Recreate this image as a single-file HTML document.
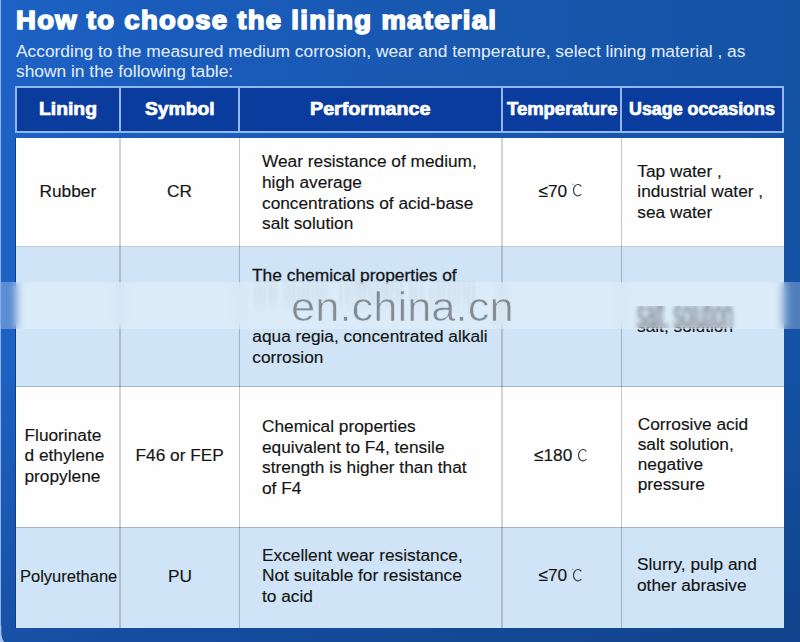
<!DOCTYPE html>
<html><head><meta charset="utf-8">
<style>
html,body{margin:0;padding:0;}
body{width:800px;height:642px;overflow:hidden;position:relative;background:#1656b0;font-family:"Liberation Sans",sans-serif;}
#bg{position:absolute;left:0;top:0;width:800px;height:642px;background:linear-gradient(180deg,rgba(0,0,0,0) 0%,rgba(0,0,0,0) 55%,rgba(0,10,40,0.2) 100%),linear-gradient(90deg,#1d62c4 0%,#1a5cbc 20%,#1858b0 55%,#1452a4 100%);}
#edge{position:absolute;left:0;top:0;width:1.3px;height:642px;background:#8db4ec;}
.t{position:absolute;white-space:nowrap;}
#title{left:16px;top:4.6px;font-size:25px;font-weight:700;color:#fff;transform-origin:0 0;transform:scaleX(1.098);-webkit-text-stroke:1.5px #fff;line-height:30px;letter-spacing:1.2px;}
#sub{left:16px;top:40.7px;font-size:17.37px;color:#e6eefc;line-height:20.6px;}
#head{position:absolute;left:15px;top:86px;width:769px;height:47px;background:#0a3c9e;box-sizing:border-box;border:2px solid #94b6ee;}
.hv{position:absolute;top:86px;height:47px;width:2px;background:#94b6ee;}
.ht{position:absolute;top:90px;font-size:17.5px;font-weight:700;color:#fff;line-height:38px;white-space:nowrap;transform-origin:0 50%;-webkit-text-stroke:0.7px #fff;}
#body{position:absolute;left:15px;top:138px;width:769px;height:490px;background:#0c3c8c;}
.row{position:absolute;left:16px;width:768px;}
.v{position:absolute;width:1px;background:#bcbcbc;}
.b{position:absolute;font-size:17.3px;color:#141414;-webkit-text-stroke:0.15px #141414;line-height:20.5px;white-space:nowrap;}
</style></head><body>
<div id="bg"></div>
<div id="edge"></div>
<svg style="position:absolute;left:0;top:626px" width="8" height="16" viewBox="0 0 8 16"><path d="M0 0 L1.3 0 L1.3 7 Q1.6 13 4.2 16 L0 16 Z" fill="#a6c6f0"/></svg>
<div class="t" id="title">How to choose the lining material</div>
<div class="t" id="sub">According to the measured medium corrosion, wear and temperature, select lining material , as<br>shown in the following table:</div>

<div id="head"></div>
<div class="hv" style="left:119px"></div>
<div class="hv" style="left:238px"></div>
<div class="hv" style="left:501px"></div>
<div class="hv" style="left:620px"></div>
<div class="ht" style="left:39px;transform:scaleX(1.105)">Lining</div>
<div class="ht" style="left:145.4px;transform:scaleX(1.1)">Symbol</div>
<div class="ht" style="left:310px;transform:scaleX(1.125)">Performance</div>
<div class="ht" style="left:507px;transform:scaleX(1.055)">Temperature</div>
<div class="ht" style="left:629px;transform:scaleX(1.02)">Usage occasions</div>

<div id="body"></div>
<div class="row" style="top:138px;height:108px;background:#fefefe"></div>
<div class="row" style="top:246px;height:1px;background:#c8ccd0"></div>
<div class="row" style="top:247px;height:139px;background:#cfe4f6"></div>
<div class="row" style="top:386px;height:1px;background:#a9b5c0"></div>
<div class="row" style="top:387px;height:140px;background:#fefefe"></div>
<div class="row" style="top:527px;height:1px;background:#a9b5c0"></div>
<div class="row" style="top:528px;height:100px;background:#cfe4f6"></div>
<div class="v" style="left:119px;width:2px;top:138px;height:490px;background:rgba(0,0,0,0.17)"></div>
<div class="v" style="left:238.8px;width:1.4px;top:138px;height:490px;background:rgba(0,0,0,0.22)"></div>
<div class="v" style="left:501px;width:2px;top:138px;height:490px;background:rgba(0,0,0,0.17)"></div>
<div class="v" style="left:620.8px;width:1.4px;top:138px;height:490px;background:rgba(0,0,0,0.22)"></div>

<!-- row 1 -->
<div class="b" style="left:39.5px;top:180.9px">Rubber</div>
<div class="b" style="left:167px;top:180.9px">CR</div>
<div class="b" style="left:262px;top:151.4px;line-height:20.6px">Wear resistance of medium,<br>high average<br>concentrations of acid-base<br>salt solution</div>
<div class="b" style="left:538.5px;top:180.9px">≤70</div>
<div class="b" style="left:637.3px;top:160.8px">Tap water ,<br>industrial water ,<br>sea water</div>

<!-- row 2 -->
<div class="b" style="left:252.3px;top:265.6px;transform-origin:0 0;transform:scale(1.005,0.93);-webkit-text-stroke:0.3px #1a1a1a">The chemical properties of</div>
<div class="b" style="left:252.3px;top:326.3px;line-height:20.5px">aqua regia, concentrated alkali<br>corrosion</div>
<div class="b" style="left:637px;top:316.3px;clip-path:inset(10.5px 0 0 0)">salt, solution</div>

<!-- band -->
<div style="position:absolute;left:0;top:282px;width:800px;height:47px;background:rgba(255,255,255,0.26);-webkit-backdrop-filter:blur(5px);backdrop-filter:blur(5px)"></div>
<svg style="position:absolute;left:630px;top:296px" width="120" height="34" viewBox="0 0 120 34"><defs><filter id="vb" x="-10%" y="-60%" width="120%" height="220%"><feGaussianBlur stdDeviation="2 2.5"/></filter><clipPath id="cp1"><rect x="0" y="10" width="120" height="22"/></clipPath></defs><g clip-path="url(#cp1)"><g filter="url(#vb)" opacity="0.8"><text x="7" y="13.6" transform="scale(1,2.35)" font-family="Liberation Sans" font-size="17.3" fill="#4a4e54">salt, solution</text></g></g></svg>
<svg style="position:absolute;left:245px;top:280px" width="250" height="50" viewBox="0 0 250 50"><defs><filter id="vb2" x="-5%" y="-60%" width="110%" height="220%"><feGaussianBlur stdDeviation="1 7"/></filter></defs><g filter="url(#vb2)" opacity="0.1"><text x="8" y="11" transform="scale(1,2.2)" font-family="Liberation Sans" font-size="17.3" fill="#555">are stable, resistant to strong</text><text x="8" y="22" transform="scale(1,1)" font-family="Liberation Sans" font-size="17.3" fill="#666"></text></g></svg>
<div class="t" style="left:291px;top:283px;font-size:42.6px;line-height:47px;color:#818c95;-webkit-text-stroke:0.7px #dde9f3;transform-origin:0 37px;transform:scale(1.022,0.97)">en.china.cn</div>

<!-- row 3 -->
<div class="b" style="left:24.5px;top:424.9px">Fluorinate<br>d ethylene<br>propylene</div>
<div class="b" style="left:135.5px;top:445.2px">F46 or FEP</div>
<div class="b" style="left:262px;top:416.4px;line-height:20.4px">Chemical properties<br>equivalent to F4, tensile<br>strength is higher than that<br>of F4</div>
<div class="b" style="left:534px;top:445.2px">≤180</div>
<div class="b" style="left:637.7px;top:413.6px;line-height:20.2px">Corrosive acid<br>salt solution,<br>negative<br>pressure</div>

<!-- row 4 -->
<div class="b" style="left:19.6px;top:566px;transform-origin:0 0;transform:scaleX(0.955)">Polyurethane</div>
<div class="b" style="left:168px;top:566.3px">PU</div>
<div class="b" style="left:262px;top:544.9px">Excellent wear resistance,<br>Not suitable for resistance<br>to acid</div>
<div class="b" style="left:538.5px;top:565.2px">≤70</div>
<div class="b" style="left:637px;top:553.6px;line-height:21px">Slurry, pulp and<br>other abrasive</div>

<!-- degree C -->
<svg style="position:absolute;left:571.8px;top:183.2px" width="14" height="15" viewBox="0 0 14 15"><path d="M9.34 3.39 A4.50 5.70 0 1 0 9.34 11.01" fill="none" stroke="#3a3a3a" stroke-width="1.15"/><circle cx="0.8" cy="1.2" r="0.75" fill="#999"/></svg>
<svg style="position:absolute;left:576.6px;top:447.8px" width="14" height="15" viewBox="0 0 14 15"><path d="M9.34 3.39 A4.50 5.70 0 1 0 9.34 11.01" fill="none" stroke="#3a3a3a" stroke-width="1.15"/><circle cx="0.8" cy="1.2" r="0.75" fill="#999"/></svg>
<svg style="position:absolute;left:572.0px;top:568.0px" width="14" height="15" viewBox="0 0 14 15"><path d="M9.34 3.39 A4.50 5.70 0 1 0 9.34 11.01" fill="none" stroke="#3a3a3a" stroke-width="1.15"/><circle cx="0.8" cy="1.2" r="0.75" fill="#999"/></svg>
</body></html>
